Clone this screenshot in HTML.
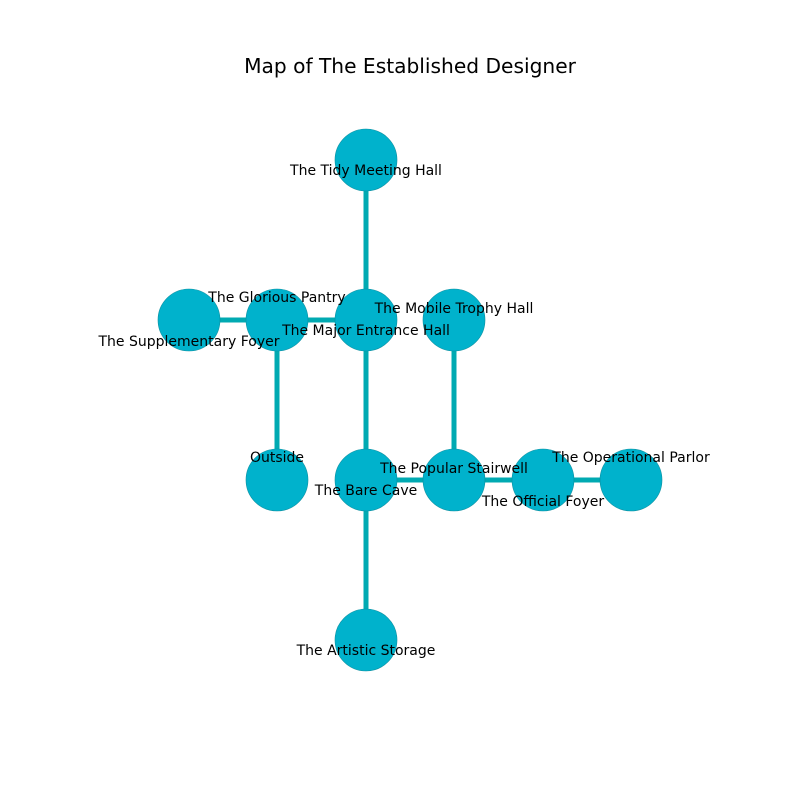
<!DOCTYPE html>
<html><head><style>body{margin:0;background:#fff}</style></head><body>
<svg width="800" height="800" xmlns="http://www.w3.org/2000/svg" font-family="DejaVu Sans, Liberation Sans, sans-serif">
<rect width="800" height="800" fill="#fff"/>
<text x="410" y="73" font-size="20.2" text-anchor="middle">Map of The Established Designer</text>
<g stroke="#00aab2" stroke-width="5">
<line x1="366" y1="160" x2="366" y2="640"/>
<line x1="189" y1="320" x2="366" y2="320"/>
<line x1="277" y1="320" x2="277" y2="480"/>
<line x1="454" y1="320" x2="454" y2="480"/>
<line x1="366" y1="480" x2="631" y2="480"/>
</g>
<g fill="#00b2cc" stroke="#0a8fa0" stroke-width="0.6">
<circle cx="366" cy="160" r="31"/>
<circle cx="189" cy="320" r="31"/>
<circle cx="277" cy="320" r="31"/>
<circle cx="366" cy="320" r="31"/>
<circle cx="454" cy="320" r="31"/>
<circle cx="277" cy="480" r="31"/>
<circle cx="366" cy="480" r="31"/>
<circle cx="454" cy="480" r="31"/>
<circle cx="543" cy="480" r="31"/>
<circle cx="631" cy="480" r="31"/>
<circle cx="366" cy="640" r="31"/>
</g>
<g font-size="14" text-anchor="middle" fill="#000">
<text x="366" y="175">The Tidy Meeting Hall</text>
<text x="277" y="302">The Glorious Pantry</text>
<text x="454" y="313">The Mobile Trophy Hall</text>
<text x="366" y="335">The Major Entrance Hall</text>
<text x="189" y="346">The Supplementary Foyer</text>
<text x="277" y="462">Outside</text>
<text x="631" y="462">The Operational Parlor</text>
<text x="454" y="473">The Popular Stairwell</text>
<text x="366" y="495">The Bare Cave</text>
<text x="543" y="506">The Official Foyer</text>
<text x="366" y="655">The Artistic Storage</text>
</g>
</svg>
</body></html>
